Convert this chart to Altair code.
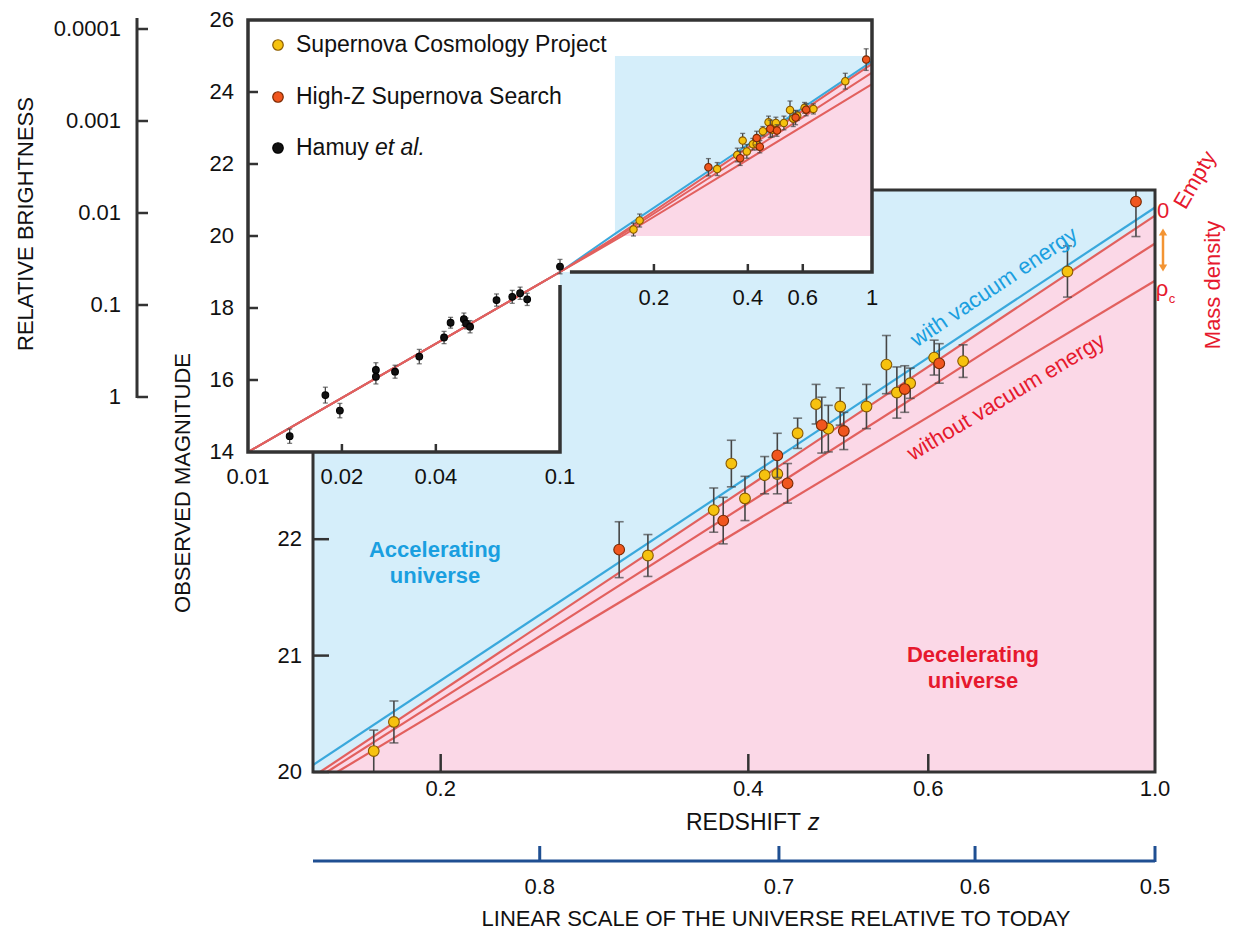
import altair as alt
import pandas as pd

FONT = "Liberation Sans"
OFF = 8  # page margin


def P(v):
    return v - OFF


# ---------------- data ----------------
# Supernova Cosmology Project (main panel)
SCP_Z = [0.172, 0.180, 0.319, 0.370, 0.385, 0.397, 0.415, 0.427, 0.447, 0.466,
         0.479, 0.492, 0.522, 0.546, 0.559, 0.576, 0.608, 0.649, 0.821]
SCP_M = [20.18, 20.43, 21.86, 22.25, 22.65, 22.35, 22.55, 22.56, 22.91, 23.16,
         22.95, 23.14, 23.14, 23.50, 23.26, 23.34, 23.56, 23.53, 24.30]
SCP_E = [0.18, 0.18, 0.18, 0.19, 0.20, 0.19, 0.16, 0.17, 0.13, 0.17,
         0.20, 0.16, 0.19, 0.25, 0.22, 0.13, 0.15, 0.14, 0.22]
# High-Z Supernova Search
HZ_Z = [0.299, 0.378, 0.427, 0.437, 0.472, 0.496, 0.569, 0.615, 0.958]
HZ_M = [21.91, 22.16, 22.72, 22.48, 22.98, 22.93, 23.29, 23.51, 24.90]
HZ_E = [0.24, 0.20, 0.19, 0.17, 0.24, 0.16, 0.20, 0.17, 0.30]
# Hamuy et al. (inset, low redshift)
HAMUY_Z = [0.0136, 0.0177, 0.0197, 0.0257, 0.0257, 0.0296, 0.0354, 0.0425, 0.0446,
           0.0492, 0.0500, 0.0515, 0.0626, 0.0703, 0.0745, 0.0785, 0.100]
HAMUY_M = [14.44, 15.58, 15.15, 16.28, 16.09, 16.23, 16.65, 17.18, 17.59,
           17.69, 17.57, 17.48, 18.22, 18.31, 18.41, 18.24, 19.15]
HAMUY_E = [0.20, 0.22, 0.20, 0.20, 0.20, 0.18, 0.20, 0.17, 0.15,
           0.17, 0.15, 0.17, 0.17, 0.18, 0.17, 0.17, 0.20]

# model curves (start / end points)
CURVE_NAMES = ["with vacuum energy", "empty", "intermediate", "critical density"]
CURVE_Z0 = [0.150, 0.1524, 0.1548, 0.1584]
CURVE_M0 = [20.06, 20.00, 20.00, 20.00]
CURVE_Z1 = [1.0, 1.0, 1.0, 1.0]
CURVE_M1 = [24.85, 24.78, 24.54, 24.22]
# low-redshift part of the curves (inset)
LOWZ_Z = [0.01, 0.1]
LOWZ_M = [14.0, 19.0]

# panel extents
MAIN_Z = [0.15, 1.0]
MAIN_M = [20.0, 25.0]
INSET_Z = [0.01, 1.0]
INSET_M = [14.0, 26.0]
INSET_BG_Z0 = [0.01, 0.01]
INSET_BG_Z1 = [1.0, 0.1]
INSET_BG_M0 = [19.0, 14.0]
INSET_BG_M1 = [26.0, 19.0]
INSET_FRAME_Z = [0.1076, 1.0, 1.0, 0.01, 0.01, 0.1, 0.1]
INSET_FRAME_M = [19.0, 19.0, 26.0, 26.0, 14.0, 14.0, 18.64]

# ticks and labels
MAIN_XTICKS = [0.2, 0.4, 0.6]
MAIN_XLABELS_V = [0.2, 0.4, 0.6, 1.0]
MAIN_XLABELS = ["0.2", "0.4", "0.6", "1.0"]
MAIN_YTICKS = [20, 21, 22]
MAIN_YLABELS = ["20", "21", "22"]
A_TICKS = [0.8, 0.7, 0.6, 0.5]
A_LABELS = ["0.8", "0.7", "0.6", "0.5"]
INSET_YTICKS = [16, 18, 20, 22, 24]
INSET_YLABELS_V = [14, 16, 18, 20, 22, 24, 26]
INSET_XTICKS_LOW = [0.02, 0.04]
INSET_XLABELS_LOW_V = [0.01, 0.02, 0.04, 0.1]
INSET_XLABELS_LOW = ["0.01", "0.02", "0.04", "0.1"]
INSET_XTICKS_HIGH = [0.2, 0.4, 0.6]
INSET_XLABELS_HIGH_V = [0.2, 0.4, 0.6, 1.0]
INSET_XLABELS_HIGH = ["0.2", "0.4", "0.6", "1"]
BRIGHT_TICKS = [0.0001, 0.001, 0.01, 0.1, 1]
BRIGHT_LABELS = ["0.0001", "0.001", "0.01", "0.1", "1"]
LEGEND_LABELS = ["Supernova Cosmology Project", "High-Z Supernova Search", "Hamuy"]

# ---------------- styles ----------------
BLUE_BG = "#d5eefa"
PINK_BG = "#fbd8e7"
BLUE_LINE = "#3aa8dc"
RED_LINE = "#e2605e"
CURVE_COLORS = [BLUE_LINE, RED_LINE, RED_LINE, RED_LINE]
BLUE_TXT = "#1a9fe0"
RED_TXT = "#e6192e"
FRAME = "#333333"
ERR = "#454545"
YEL = "#f6c20f"
YEL_EDGE = "#8a5a00"
ORG = "#f0561e"
ORG_EDGE = "#7a2800"
NAVY = "#1f4f92"
ARROW = "#f39433"

MX = alt.Scale(type="log", domain=MAIN_Z, range=[P(313), P(1155)], nice=False)
MY = alt.Scale(type="linear", domain=MAIN_M, range=[P(772), P(190)], nice=False,
               zero=False, clamp=True)
IX = alt.Scale(type="log", domain=INSET_Z, range=[P(248), P(872)], nice=False)
IY = alt.Scale(type="linear", domain=INSET_M, range=[P(452), P(20)], nice=False,
               zero=False)
BY = alt.Scale(type="log", domain=[BRIGHT_TICKS[0], BRIGHT_TICKS[-1]],
               range=[P(29), P(397)], nice=False)


def XS(f, s):
    return alt.X(f, type="quantitative", scale=s, axis=None)


def YS(f, s):
    return alt.Y(f, type="quantitative", scale=s, axis=None)


def txt(**kw):
    base = dict(font=FONT, fontSize=22, color="#111111", align="center", baseline="middle")
    base.update(kw)
    return base


def note(text, x, y, **kw):
    return alt.Chart(pd.DataFrame({"t": [text]})).mark_text(**txt(**kw)).encode(
        x=alt.value(P(x)), y=alt.value(P(y)), text="t:N")


# ---------------- data frames ----------------
def sn_frame(z, m, e):
    df = pd.DataFrame({"z": z, "m": m, "e": e})
    df["lo"] = df["m"] - df["e"]
    df["hi"] = df["m"] + df["e"]
    return df


scp = sn_frame(SCP_Z, SCP_M, SCP_E)
hz = sn_frame(HZ_Z, HZ_M, HZ_E)
ham = sn_frame(HAMUY_Z, HAMUY_M, HAMUY_E)
box = pd.DataFrame({"z0": [MAIN_Z[0]], "z1": [MAIN_Z[1]], "m0": [MAIN_M[0]], "m1": [MAIN_M[1]]})
pink = pd.DataFrame({"z": [CURVE_Z0[1], CURVE_Z1[1]], "m": [CURVE_M0[1], CURVE_M1[1]],
                     "base": [MAIN_M[0], MAIN_M[0]]})


def sn_layers(df, sx, sy, fill, edge, size, cap, sw):
    return [
        alt.Chart(df).mark_rule(color=ERR, strokeWidth=sw).encode(
            x=XS("z", sx), y=YS("lo", sy), y2="hi"),
        alt.Chart(df).mark_tick(orient="horizontal", size=cap, thickness=sw, color=ERR).encode(
            x=XS("z", sx), y=YS("lo", sy)),
        alt.Chart(df).mark_tick(orient="horizontal", size=cap, thickness=sw, color=ERR).encode(
            x=XS("z", sx), y=YS("hi", sy)),
        alt.Chart(df).mark_circle(size=size, color=fill, stroke=edge, strokeWidth=1.1,
                                  opacity=1).encode(x=XS("z", sx), y=YS("m", sy)),
    ]


# ---------------- main panel ----------------
main_layers = [
    alt.Chart(box).mark_rect(color=BLUE_BG).encode(
        x=XS("z0", MX), x2="z1", y=YS("m0", MY), y2="m1"),
    alt.Chart(pink).mark_area(color=PINK_BG, opacity=1).encode(
        x=XS("z", MX), y=YS("m", MY), y2="base"),
]
for i in range(len(CURVE_NAMES)):
    cdf = pd.DataFrame({"z": [CURVE_Z0[i], CURVE_Z1[i]], "m": [CURVE_M0[i], CURVE_M1[i]]})
    main_layers.append(alt.Chart(cdf).mark_line(color=CURVE_COLORS[i], strokeWidth=2.2).encode(
        x=XS("z", MX), y=YS("m", MY)))
main_layers += sn_layers(scp, MX, MY, YEL, YEL_EDGE, 115, 9, 1.6)
main_layers += sn_layers(hz, MX, MY, ORG, ORG_EDGE, 115, 9, 1.6)
main_layers += [
    alt.Chart(box).mark_rect(fillOpacity=0, stroke=FRAME, strokeWidth=3).encode(
        x=XS("z0", MX), x2="z1", y=YS("m0", MY), y2="m1"),
    alt.Chart(pd.DataFrame({"z": MAIN_XTICKS})).mark_rule(color=FRAME, strokeWidth=2.5).encode(
        x=XS("z", MX), y=alt.value(P(772)), y2=alt.value(P(754))),
    alt.Chart(pd.DataFrame({"m": MAIN_YTICKS})).mark_rule(color=FRAME, strokeWidth=2.5).encode(
        y=YS("m", MY), x=alt.value(P(313)), x2=alt.value(P(329))),
    alt.Chart(pd.DataFrame({"z": MAIN_XLABELS_V, "t": MAIN_XLABELS})).mark_text(**txt()).encode(
        x=XS("z", MX), y=alt.value(P(789)), text="t:N"),
    alt.Chart(pd.DataFrame({"m": MAIN_YTICKS, "t": MAIN_YLABELS})).mark_text(**txt(align="right")).encode(
        y=YS("m", MY), x=alt.value(P(302)), text="t:N"),
]
# scale factor axis (a = 1/(1+z)) on the redshift scale
adf = pd.DataFrame({"a": A_TICKS, "t": A_LABELS})
main_layers += [
    alt.Chart(box).mark_rule(color=NAVY, strokeWidth=3).encode(
        x=XS("z0", MX), x2="z1", y=alt.value(P(861))),
    alt.Chart(adf).transform_calculate(z="1/datum.a - 1").mark_rule(color=NAVY, strokeWidth=3).encode(
        x=XS("z", MX), y=alt.value(P(862)), y2=alt.value(P(846))),
    alt.Chart(adf).transform_calculate(z="1/datum.a - 1").mark_text(**txt()).encode(
        x=XS("z", MX), y=alt.value(P(887)), text="t:N"),
]
main = alt.layer(*main_layers)

# ---------------- inset ----------------
ibg = pd.DataFrame({"z0": INSET_BG_Z0, "z1": INSET_BG_Z1, "m0": INSET_BG_M0, "m1": INSET_BG_M1})
inset_layers = [
    alt.Chart(ibg).mark_rect(color="white").encode(
        x=XS("z0", IX), x2="z1", y=YS("m0", IY), y2="m1"),
    alt.Chart(box).mark_rect(color=BLUE_BG).encode(
        x=XS("z0", IX), x2="z1", y=YS("m0", IY), y2="m1"),
    alt.Chart(pink).mark_area(color=PINK_BG, opacity=1).encode(
        x=XS("z", IX), y=YS("m", IY), y2="base"),
]
for i in range(len(CURVE_NAMES)):
    cdf = pd.DataFrame({"z": LOWZ_Z + [CURVE_Z0[i], CURVE_Z1[i]],
                        "m": LOWZ_M + [CURVE_M0[i], CURVE_M1[i]]})
    inset_layers.append(alt.Chart(cdf).mark_line(color=CURVE_COLORS[i], strokeWidth=2).encode(
        x=XS("z", IX), y=YS("m", IY)))
inset_layers += sn_layers(ham, IX, IY, "#111111", "#000000", 45, 5, 1.3)
inset_layers += sn_layers(scp, IX, IY, YEL, YEL_EDGE, 55, 5, 1.3)
inset_layers += sn_layers(hz, IX, IY, ORG, ORG_EDGE, 55, 5, 1.3)
frame_df = pd.DataFrame({"z": INSET_FRAME_Z, "m": INSET_FRAME_M, "o": list(range(len(INSET_FRAME_Z)))})
inset_layers += [
    alt.Chart(frame_df).mark_line(color=FRAME, strokeWidth=3.5, strokeJoin="miter").encode(
        x=XS("z", IX), y=YS("m", IY), order="o:Q"),
    alt.Chart(pd.DataFrame({"m": INSET_YTICKS})).mark_rule(color=FRAME, strokeWidth=2.5).encode(
        y=YS("m", IY), x=alt.value(P(247)), x2=alt.value(P(258))),
    alt.Chart(pd.DataFrame({"z": INSET_XTICKS_LOW})).mark_rule(color=FRAME, strokeWidth=2.5).encode(
        x=XS("z", IX), y=alt.value(P(452)), y2=alt.value(P(444))),
    alt.Chart(pd.DataFrame({"z": INSET_XTICKS_HIGH})).mark_rule(color=FRAME, strokeWidth=2.5).encode(
        x=XS("z", IX), y=alt.value(P(272)), y2=alt.value(P(264))),
    alt.Chart(pd.DataFrame({"m": INSET_YLABELS_V, "t": [str(v) for v in INSET_YLABELS_V]})).mark_text(
        **txt(align="right")).encode(y=YS("m", IY), x=alt.value(P(234)), text="t:N"),
    alt.Chart(pd.DataFrame({"z": INSET_XLABELS_LOW_V, "t": INSET_XLABELS_LOW})).mark_text(**txt()).encode(
        x=XS("z", IX), y=alt.value(P(477)), text="t:N"),
    alt.Chart(pd.DataFrame({"z": INSET_XLABELS_HIGH_V, "t": INSET_XLABELS_HIGH})).mark_text(**txt()).encode(
        x=XS("z", IX), y=alt.value(P(298)), text="t:N"),
]
inset = alt.layer(*inset_layers)

# ---------------- relative brightness axis ----------------
bdf = pd.DataFrame({"b": BRIGHT_TICKS, "t": BRIGHT_LABELS})
bright = alt.layer(
    alt.Chart(pd.DataFrame({"k": [0]})).mark_rule(color=FRAME, strokeWidth=3).encode(
        x=alt.value(P(137)), y=alt.value(P(18)), y2=alt.value(P(398))),
    alt.Chart(bdf).mark_rule(color=FRAME, strokeWidth=2.5).encode(
        y=YS("b", BY), x=alt.value(P(137)), x2=alt.value(P(148))),
    alt.Chart(bdf).mark_text(**txt(align="right")).encode(
        y=YS("b", BY), x=alt.value(P(121)), text="t:N"),
)


# ---------------- legend & annotations ----------------
def dot(x, y, fill, edge, size):
    return alt.Chart(pd.DataFrame({"k": [0]})).mark_circle(
        size=size, color=fill, stroke=edge, strokeWidth=1.2, opacity=1).encode(
        x=alt.value(P(x)), y=alt.value(P(y)))


def tri(x, y, shape):
    return alt.Chart(pd.DataFrame({"k": [0]})).mark_point(
        shape=shape, size=70, filled=True, color=ARROW, opacity=1).encode(
        x=alt.value(P(x)), y=alt.value(P(y)))


notes = alt.layer(
    dot(278, 45, YEL, YEL_EDGE, 110),
    dot(278, 97, ORG, ORG_EDGE, 110),
    dot(278, 148, "#111111", "#000000", 110),
    note(LEGEND_LABELS[0], 296, 45, align="left", fontSize=23),
    note(LEGEND_LABELS[1], 296, 97, align="left", fontSize=23),
    note(LEGEND_LABELS[2], 296, 148, align="left", fontSize=23),
    note("et al.", 375, 148, align="left", fontSize=23, fontStyle="italic"),
    note("RELATIVE BRIGHTNESS", 26, 224, angle=270),
    note("OBSERVED MAGNITUDE", 183, 483, angle=270),
    note("REDSHIFT", 686, 823, align="left", fontSize=23),
    note("z", 808, 823, align="left", fontSize=23, fontStyle="italic"),
    note("LINEAR SCALE OF THE UNIVERSE RELATIVE TO TODAY", 776, 919),
    note("with vacuum energy", 994, 287, angle=326, color=BLUE_TXT),
    note("without vacuum energy", 1006, 397, angle=329, color=RED_TXT),
    note("Accelerating", 435, 550, color=BLUE_TXT, fontWeight="bold"),
    note("universe", 435, 576, color=BLUE_TXT, fontWeight="bold"),
    note("Decelerating", 973, 655, color=RED_TXT, fontWeight="bold"),
    note("universe", 973, 681, color=RED_TXT, fontWeight="bold"),
    note("0", 1163, 211, color=RED_TXT),
    note("Empty", 1195, 180, color=RED_TXT, angle=300),
    note("ρ", 1162, 289, color=RED_TXT),
    note("c", 1172, 299, color=RED_TXT, fontSize=13),
    note("Mass density", 1213, 285, angle=270, color=RED_TXT),
    alt.Chart(pd.DataFrame({"k": [0]})).mark_rule(color=ARROW, strokeWidth=2.5).encode(
        x=alt.value(P(1163)), y=alt.value(P(234)), y2=alt.value(P(266))),
    tri(1163, 232, "triangle-up"),
    tri(1163, 268, "triangle-down"),
)

chart = alt.layer(main, inset, bright, notes).resolve_scale(
    x="independent", y="independent"
).properties(
    width=1218, height=925, autosize=alt.AutoSizeParams(type="none"), padding=0
).configure_view(strokeWidth=0)

chart.save("out.html", embed_options={"renderer": "svg", "actions": False})
